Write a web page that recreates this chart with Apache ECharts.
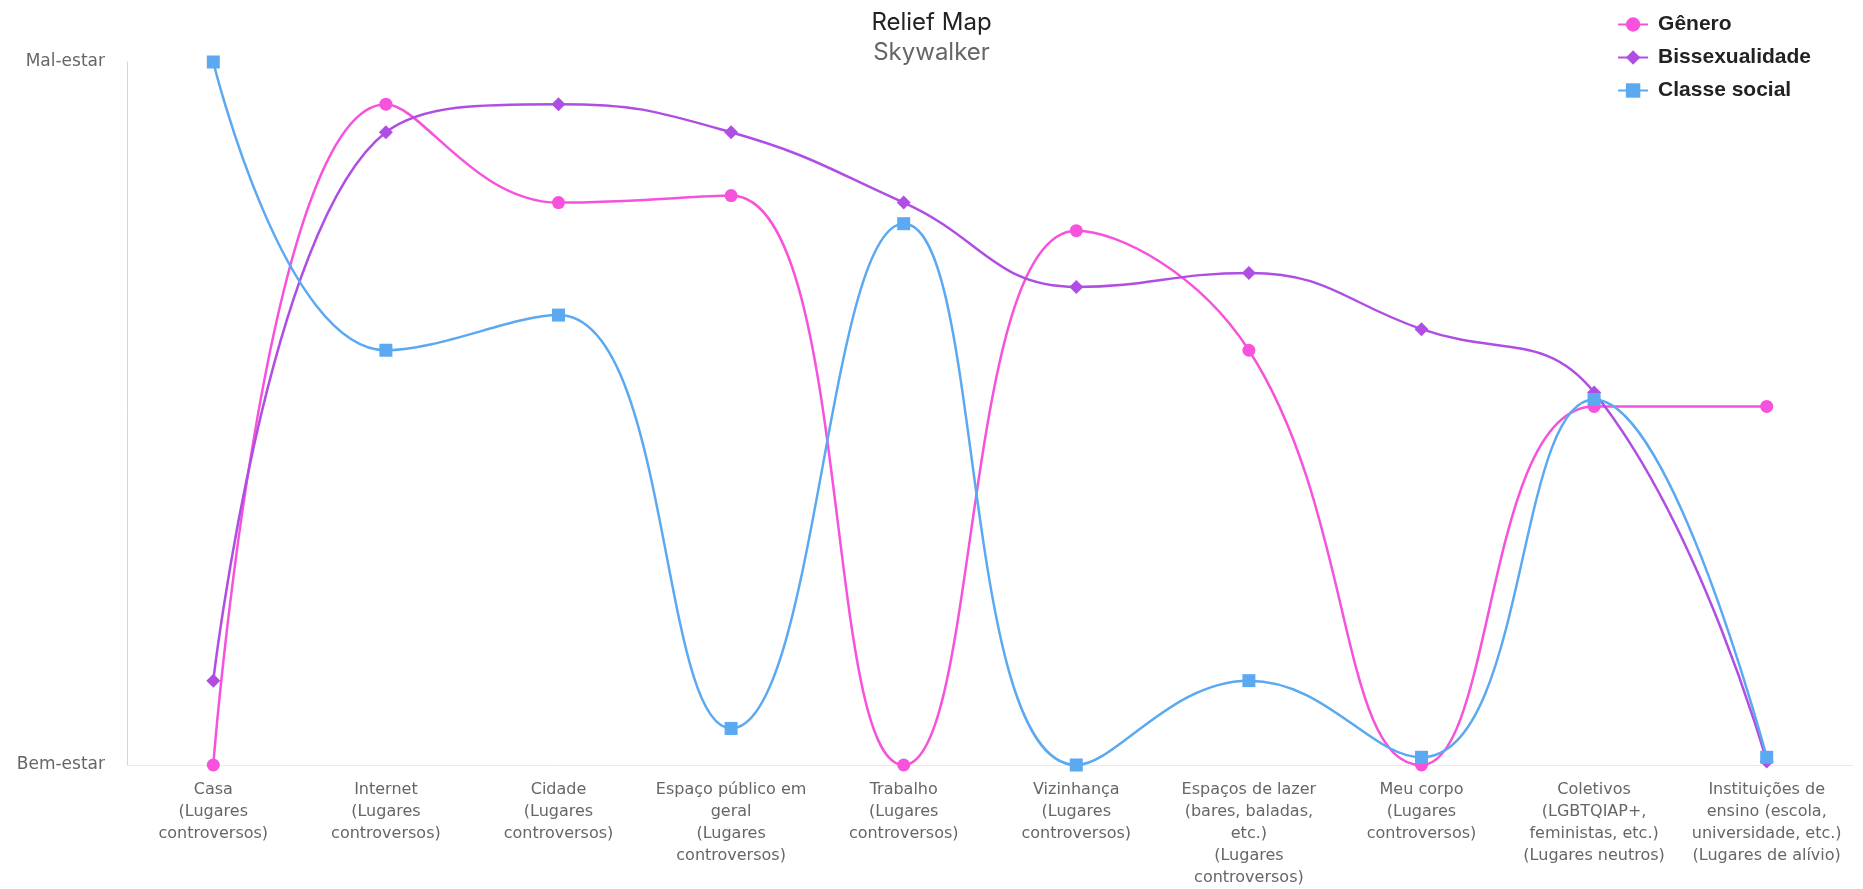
<!DOCTYPE html>
<html>
<head>
<meta charset="utf-8">
<script src="https://cdn.jsdelivr.net/npm/echarts@6/dist/echarts.min.js"></script>
<style>
html,body{margin:0;padding:0;background:#fff;}
#chart{width:1863px;height:889px;}
</style>
</head>
<body>
<div id="chart"></div>
<script>
const categories = [
  'Casa\n(Lugares\ncontroversos)',
  'Internet\n(Lugares\ncontroversos)',
  'Cidade\n(Lugares\ncontroversos)',
  'Espaço público em\ngeral\n(Lugares\ncontroversos)',
  'Trabalho\n(Lugares\ncontroversos)',
  'Vizinhança\n(Lugares\ncontroversos)',
  'Espaços de lazer\n(bares, baladas,\netc.)\n(Lugares\ncontroversos)',
  'Meu corpo\n(Lugares\ncontroversos)',
  'Coletivos\n(LGBTQIAP+,\nfeministas, etc.)\n(Lugares neutros)',
  'Instituições de\nensino (escola,\nuniversidade, etc.)\n(Lugares de alívio)'
];
const genero = [0, 94, 80, 81, 0, 76, 59, 0, 51, 51];
const bissexualidade = [12, 90, 94, 90, 80, 68, 70, 62, 53, 0.5];
const classeSocial = [100, 59, 64, 5.2, 77, 0, 12, 1.1, 52, 1.1];
const yTickLabels = {0: 'Bem-estar', 100: 'Mal-estar'};

const chart = echarts.init(document.getElementById('chart'));
const uiFont = 'Inter, "Noto Sans", sans-serif';
const legendFont = '"Liberation Sans", Arial, sans-serif';
const axisFont = '"DejaVu Sans", Verdana, sans-serif';

function mk(name, data, color, symbol) {
  return {
    name: name, type: 'line', data: data, smooth: 0.45,
    symbol: symbol, symbolSize: symbol === 'diamond' ? 14 : 13,
    lineStyle: {color: color, width: 2.5},
    itemStyle: {color: color},
    emphasis: {disabled: true}
  };
}

chart.setOption({
  animation: false,
  backgroundColor: '#ffffff',
  title: {
    text: 'Relief Map', subtext: 'Skywalker', left: 'center', top: 6, itemGap: 6,
    textStyle: {fontFamily: uiFont, fontSize: 24, fontWeight: 'normal', color: '#222'},
    subtextStyle: {fontFamily: uiFont, fontSize: 24, color: '#666'}
  },
  legend: {
    orient: 'vertical', right: 47, top: 9, itemGap: 12,
    itemWidth: 30, itemHeight: 18,
    textStyle: {fontFamily: legendFont, fontSize: 21, fontWeight: 'bold', color: '#222', padding: [0, 0, 0, 5]}
  },
  grid: {left: 127, right: 10, top: 62, bottom: 124},
  xAxis: {
    type: 'category', data: categories, boundaryGap: true,
    axisLine: {lineStyle: {color: '#e6e9f2'}},
    axisTick: {show: false},
    axisLabel: {interval: 0, fontFamily: axisFont, fontSize: 16, lineHeight: 22, color: '#666', margin: 14}
  },
  yAxis: {
    type: 'value', min: 0, max: 100, interval: 100,
    axisLine: {show: true, lineStyle: {color: '#ccd6eb'}},
    axisTick: {show: false},
    splitLine: {show: false},
    axisLabel: {fontFamily: axisFont, fontSize: 17, color: '#666', margin: 22,
      formatter: v => yTickLabels[v] || ''}
  },
  series: [
    mk('Gênero', genero, '#f752dc', 'circle'),
    mk('Bissexualidade', bissexualidade, '#b04ee4', 'diamond'),
    mk('Classe social', classeSocial, '#5ba9f0', 'rect')
  ]
});
</script>
</body>
</html>
